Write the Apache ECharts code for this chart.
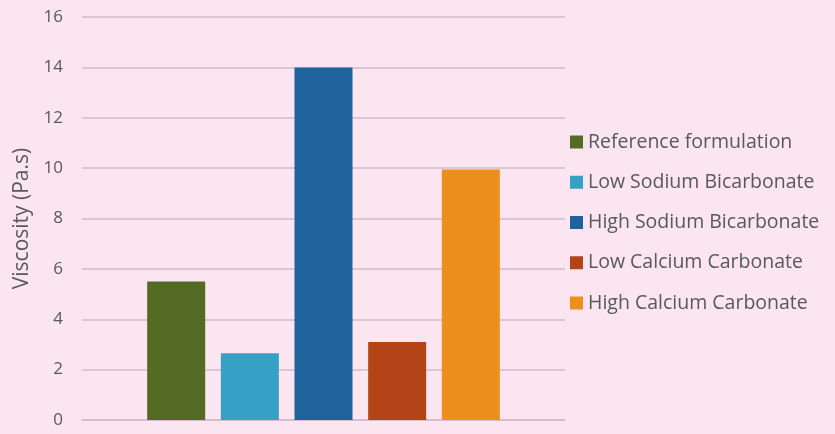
<!DOCTYPE html>
<html>
<head>
<meta charset="utf-8">
<script src="https://cdn.jsdelivr.net/npm/echarts@6/dist/echarts.min.js"></script>
<style>
  html, body { margin: 0; padding: 0; background: #fbe5f0; }
  #chart { width: 835px; height: 434px; }
</style>
</head>
<body>
<div id="chart"></div>
<script>
// Viscosity of each formulation (Pa.s)
const categories = [''];
const seriesNames = [
  'Reference formulation',
  'Low Sodium Bicarbonate',
  'High Sodium Bicarbonate',
  'Low Calcium Carbonate',
  'High Calcium Carbonate'
];
const viscosity = [5.5, 2.65, 14, 3.1, 9.95];
const colors = ['#546b24', '#36a0c5', '#1f639d', '#b34417', '#ec8f1c'];
const yTicks = { min: 0, max: 16, interval: 2 };

const font = '"Open Sans", "Liberation Sans", sans-serif';
const textColor = '#595959';

const chart = echarts.init(document.getElementById('chart'), null, { renderer: 'canvas' });

chart.setOption({
  backgroundColor: '#fbe5f0',
  animation: false,
  grid: { left: 82, right: 270, top: 17, bottom: 14, containLabel: false },
  legend: {
    orient: 'vertical',
    left: 570,
    top: 132,
    padding: 0,
    itemWidth: 13,
    itemHeight: 13,
    itemGap: 20.25,
    icon: 'rect',
    textStyle: { fontFamily: font, fontSize: 19.5, lineHeight: 20, color: textColor },
    data: seriesNames
  },
  xAxis: {
    type: 'category',
    data: categories,
    axisLine: { show: true, lineStyle: { color: '#d2bcc7', width: 1.5 } },
    axisTick: { show: false },
    axisLabel: { show: false }
  },
  yAxis: {
    type: 'value',
    min: yTicks.min,
    max: yTicks.max,
    interval: yTicks.interval,
    name: 'Viscosity (Pa.s)',
    nameLocation: 'middle',
    nameGap: 47,
    nameTextStyle: { fontFamily: font, fontSize: 21, color: textColor },
    axisLine: { show: false },
    axisTick: { show: false },
    axisLabel: { fontFamily: font, fontSize: 17, color: textColor, margin: 19 },
    splitLine: { lineStyle: { color: '#d2bcc7', width: 1.5 } }
  },
  series: seriesNames.map((name, i) => ({
    name: name,
    type: 'bar',
    data: [viscosity[i]],
    barWidth: 58,
    barGap: '27%',
    itemStyle: { color: colors[i] }
  }))
});
</script>
</body>
</html>
